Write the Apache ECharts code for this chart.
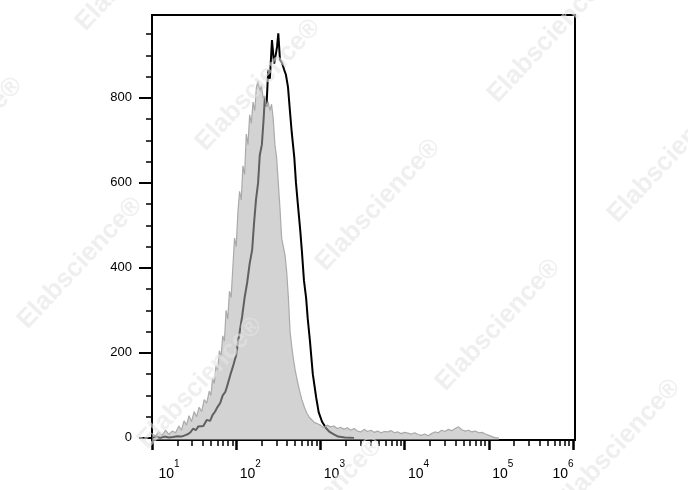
<!DOCTYPE html>
<html><head><meta charset="utf-8">
<script src="https://cdn.jsdelivr.net/npm/echarts@6/dist/echarts.min.js"></script>
<style>html,body{margin:0;padding:0;background:#fff}#c{width:688px;height:490px}</style>
</head><body><div id="c"></div>
<script>
// x values are decade exponents (log10 of fluorescence intensity)
const decadeTicks = [1, 2, 3, 4, 5, 6];
const decadeExponents = ['1', '2', '3', '4', '5', '6'];
const yTicks = [0, 200, 400, 600, 800];

const grayExp = [1.00,1.04,1.08,1.12,1.16,1.20,1.24,1.28,1.32,1.35,1.38,1.41,1.44,1.47,1.50,1.53,1.56,1.59,1.62,1.65,1.68,1.70,1.72,1.74,1.76,1.78,1.80,1.82,1.84,1.86,1.88,1.90,1.92,1.94,1.96,1.98,2.00,2.02,2.04,2.06,2.08,2.10,2.12,2.14,2.16,2.18,2.20,2.22,2.24,2.26,2.28,2.30,2.32,2.34,2.36,2.38,2.40,2.42,2.44,2.46,2.48,2.50,2.52,2.54,2.56,2.58,2.60,2.62,2.64,2.66,2.68,2.70,2.72,2.75,2.78,2.81,2.84,2.87,2.90,2.93,2.96,3.00,3.04,3.08,3.12,3.16,3.20,3.24,3.28,3.32,3.36,3.40,3.44,3.48,3.52,3.56,3.60,3.64,3.68,3.72,3.76,3.80,3.84,3.88,3.92,3.96,4.00,4.04,4.08,4.12,4.16,4.20,4.24,4.28,4.32,4.36,4.40,4.44,4.48,4.52,4.56,4.60,4.64,4.68,4.72,4.76,4.80,4.84,4.88,4.92,4.96,5.00,5.04,5.08,5.12];
const grayCount = [10,4,14,6,18,8,16,12,28,18,40,30,52,38,62,50,72,62,90,82,110,100,140,128,170,160,205,190,240,228,300,280,345,330,400,470,450,530,580,560,640,620,715,690,760,740,790,770,825,840,815,830,800,805,780,790,770,785,750,690,660,600,540,470,450,430,390,330,250,215,185,160,140,113,90,72,58,48,42,36,34,30,24,30,26,28,22,25,20,24,18,22,16,14,20,15,18,13,16,12,15,14,17,12,14,10,13,11,9,12,8,6,9,5,10,14,12,18,15,20,17,22,26,19,16,18,14,16,12,13,9,6,3,0,0];

const blackExp = [1.00,1.05,1.10,1.15,1.20,1.25,1.30,1.35,1.39,1.43,1.46,1.49,1.52,1.55,1.57,1.61,1.65,1.69,1.72,1.75,1.77,1.81,1.84,1.87,1.89,1.93,1.96,2.00,2.02,2.045,2.07,2.10,2.13,2.16,2.19,2.21,2.235,2.26,2.28,2.305,2.325,2.34,2.36,2.38,2.40,2.425,2.45,2.465,2.485,2.50,2.52,2.545,2.57,2.59,2.615,2.64,2.66,2.69,2.71,2.735,2.76,2.78,2.805,2.83,2.85,2.875,2.91,2.95,2.98,3.02,3.07,3.11,3.16,3.21,3.29,3.40];
const blackCount = [0,2,0,3,1,2,4,3,6,9,14,22,18,27,30,28,42,40,54,62,70,82,100,108,120,148,167,195,223,254,285,330,365,410,443,500,560,600,665,690,748,800,780,866,845,936,880,896,920,952,890,882,866,855,826,765,718,660,600,544,490,440,370,330,280,230,150,95,60,38,22,14,8,3,1,0];

const watermarkText = 'Elabscience®';
const watermarkCenters = [[258,85],[378,205],[498,325],[80,263],[200,383],[550,37],[670,157],[618,445],[-40,143],[138,-35],[320,503]];

const FONT = 'Liberation Sans, Arial, sans-serif';
const minorX = [];
for (let d = 1; d < 6; d++) for (let k = 2; k <= 9; k++) minorX.push(d + Math.log10(k));
const minorY = [];
for (let v = 50; v < 1000; v += 50) if (v % 200 !== 0) minorY.push(v);

const zip = (xs, ys) => xs.map((x, i) => [x, ys[i]]);

const chart = echarts.init(document.getElementById('c'), null, {renderer: 'canvas'});
const Y_MIN = -5, Y_MAX = 995, X_MIN = 1, X_MAX = 6.024;
const labelPad = {1: [0,0,0,34], 6: [0,20,0,0]};
chart.setOption({
  animation: false,
  backgroundColor: '#fff',
  grid: {left: 152, top: 15, width: 423, height: 425, show: true, borderColor: '#000', borderWidth: 2, containLabel: false, outerBoundsMode: 'none'},
  xAxis: [{
    type: 'value', min: X_MIN, max: X_MAX, position: 'bottom',
    axisLine: {show: true, onZero: false, lineStyle: {color: '#000', width: 2}},
    axisTick: {show: true, length: 10, customValues: decadeTicks, lineStyle: {color: '#000', width: 2.5}},
    splitLine: {show: false},
    axisLabel: {
      show: true, customValues: decadeTicks, margin: 19, align: 'center',
      formatter: function (v) {
        const i = decadeTicks.indexOf(Math.round(v));
        const n = Math.round(v);
        const b = n === 1 ? 'b1' : (n === 6 ? 'b6' : 'b');
        const s = n === 6 ? 's6' : 's';
        return '{' + b + '|10}{' + s + '|' + decadeExponents[i] + '}';
      },
      rich: {
        b: {fontFamily: FONT, fontSize: 14, color: '#000', lineHeight: 22, verticalAlign: 'bottom', padding: [0,0,0,28]},
        b1: {fontFamily: FONT, fontSize: 14, color: '#000', lineHeight: 22, verticalAlign: 'bottom', padding: [0,0,0,34]},
        b6: {fontFamily: FONT, fontSize: 14, color: '#000', lineHeight: 22, verticalAlign: 'bottom'},
        s: {fontFamily: FONT, fontSize: 10, color: '#000', lineHeight: 6, verticalAlign: 'top'},
        s6: {fontFamily: FONT, fontSize: 10, color: '#000', lineHeight: 6, verticalAlign: 'top', padding: [0,20,0,0]}
      }
    }
  }, {
    type: 'value', min: X_MIN, max: X_MAX, position: 'bottom',
    axisLine: {show: false, onZero: false},
    axisTick: {show: true, length: 6, customValues: minorX, lineStyle: {color: '#000', width: 1.5}},
    axisLabel: {show: false}, splitLine: {show: false}
  }],
  yAxis: [{
    type: 'value', min: Y_MIN, max: Y_MAX, position: 'left',
    axisLine: {show: true, onZero: false, lineStyle: {color: '#000', width: 2}},
    axisTick: {show: true, length: 13, customValues: yTicks, lineStyle: {color: '#000', width: 2}},
    axisLabel: {show: true, customValues: yTicks, margin: 20, fontFamily: FONT, fontSize: 13, color: '#000'},
    splitLine: {show: false}
  }, {
    type: 'value', min: Y_MIN, max: Y_MAX, position: 'left',
    axisLine: {show: false, onZero: false},
    axisTick: {show: true, length: 6, customValues: minorY, lineStyle: {color: '#000', width: 1.5}},
    axisLabel: {show: false}, splitLine: {show: false}
  }],
  series: [{
    name: 'sample', type: 'line', xAxisIndex: 0, yAxisIndex: 0, z: 2,
    data: zip(blackExp, blackCount), showSymbol: false, symbol: 'none',
    lineStyle: {color: '#000', width: 2}, silent: true
  }, {
    name: 'control', type: 'line', xAxisIndex: 0, yAxisIndex: 0, z: 3,
    data: zip(grayExp, grayCount), showSymbol: false, symbol: 'none',
    lineStyle: {color: '#aaaaaa', width: 1.2},
    areaStyle: {color: 'rgb(175,175,175)', opacity: 0.55, origin: 'start'}, silent: true
  }],
  graphic: watermarkCenters.map(c => ({
    type: 'text', x: c[0], y: c[1], rotation: 47 * Math.PI / 180, z: 100, silent: true,
    style: {text: watermarkText, font: 'bold 26px ' + FONT, fill: 'rgba(228,228,228,0.6)', align: 'center', verticalAlign: 'middle'}
  }))
});
</script></body></html>
